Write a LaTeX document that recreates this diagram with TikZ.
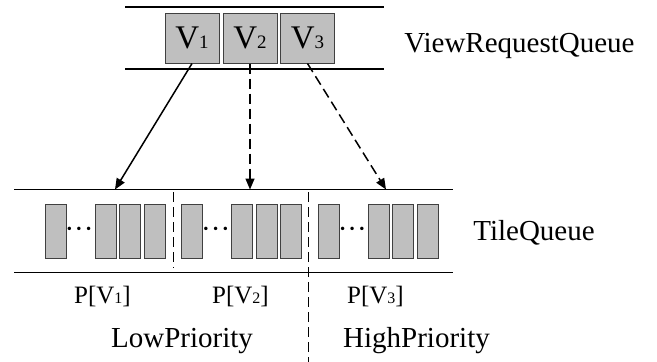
\documentclass[tikz,border=0pt]{standalone}
\usepackage{fontspec}
\setmainfont{Liberation Serif}
\usetikzlibrary{arrows.meta}
\newcommand{\bigtxt}{\fontsize{29}{32}\selectfont}
\newcommand{\vtxt}[1]{{\fontsize{33}{36}\selectfont V\fontsize{19}{20}\selectfont #1}}
\newcommand{\ptxt}[1]{{\fontsize{25}{28}\selectfont P[V{\fontsize{16}{18}\selectfont #1}]}}
\tikzset{
  band/.style={line width=1.7pt},
  vbox/.style={draw=black!75, line width=1pt, fill=gray!50, minimum width=54pt, minimum height=50pt, inner sep=0pt},
  tile/.style={draw=black!75, line width=1pt, fill=gray!50, minimum width=21pt, minimum height=54pt, inner sep=0pt},
  label/.style={anchor=base, inner sep=0pt, font=\bigtxt},
  dots/.style={anchor=base, inner sep=0pt, font=\bigtxt},
  sep/.style={line width=1.6pt, dash pattern=on 10pt off 5pt},
  link/.style={line width=1.5pt, -{Triangle[length=11pt,width=9pt]}},
  dlink/.style={link, dash pattern=on 10pt off 5pt}
}
\begin{document}
\begin{tikzpicture}[x=1pt,y=-1pt]
\useasboundingbox (0,0) rectangle (657,362);

% view request queue
\coordinate (vqTL) at (125,7);
\coordinate (vqTR) at (384,7);
\coordinate (vqBL) at (125,69);
\coordinate (vqBR) at (384,69);
\draw[band] (vqTL) -- (vqTR);
\node[vbox] (v1) at (192,38) {\vtxt{1}};
\node[vbox] (v2) at (250,38) {\vtxt{2}};
\node[vbox] (v3) at (307.5,38) {\vtxt{3}};
\node[label] (vqlabel) at (519.5,52) {ViewRequestQueue};

% tile queue
\coordinate (tqTL) at (14,189.5);
\coordinate (tqTR) at (453,189.5);
\coordinate (tqBL) at (14,272.5);
\coordinate (tqBR) at (453,272.5);
\draw[band] (tqTL) -- (tqTR);
\draw[band] (tqBL) -- (tqBR);
\node[label] (tqlabel) at (534,240) {TileQueue};

\foreach \g/\off in {a/0, b/136.7, c/273.3} {
  \node[tile] (\g1) at (55.5+\off,231.3) {};
  \node[dots] (\g d) at (79+\off,238) {···};
  \node[tile] (\g2) at (105.5+\off,231.3) {};
  \node[tile] (\g3) at (130+\off,231.3) {};
  \node[tile] (\g4) at (154.5+\off,231.3) {};
}

% partitions
\coordinate (s1t) at (173.5,192);
\coordinate (s1b) at (173.5,268);
\coordinate (s2t) at (308.5,192);
\coordinate (s2b) at (308.5,362);
\draw[sep] (s1t) -- (s1b);
\draw[sep] (s2t) -- (s2b);

% request to tile queue
\coordinate (t1) at (115,189.5);
\coordinate (t2) at (250,189.5);
\coordinate (t3) at (386,189.5);
\draw[link] (v1.south) -- (t1);
\draw[dlink] (v2.south) -- (t2);
\draw[dlink] (v3.south) -- (t3);
\draw[band] (vqBL) -- (vqBR);

% labels below
\node[label] (p1) at (102.5,303) {\ptxt{1}};
\node[label] (p2) at (240.5,303) {\ptxt{2}};
\node[label] (p3) at (375.5,303) {\ptxt{3}};
\node[label] (low) at (182,347) {LowPriority};
\node[label] (high) at (416.5,347) {HighPriority};
\end{tikzpicture}
\end{document}
